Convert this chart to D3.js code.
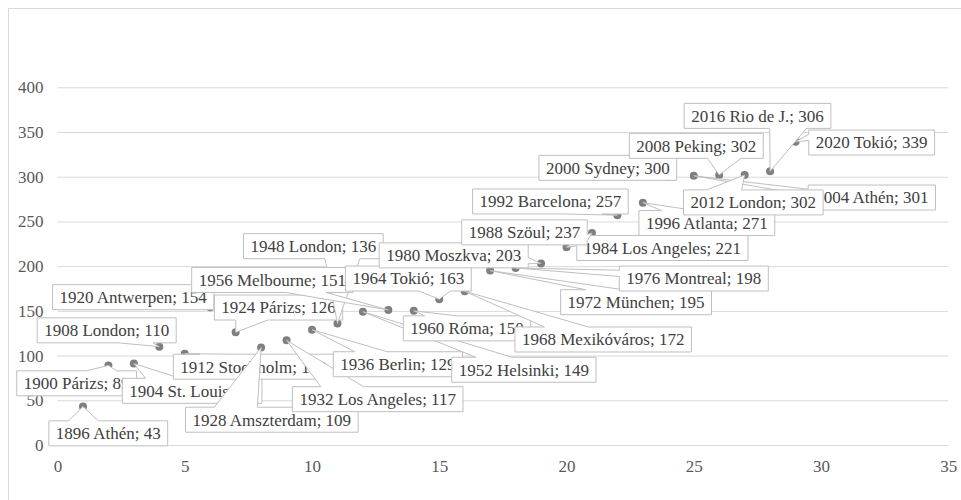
<!DOCTYPE html>
<html>
<head>
<meta charset="utf-8">
<script src="https://cdn.jsdelivr.net/npm/d3@7"></script>
<style>
  body { margin: 0; background: #ffffff; }
  svg { display: block; }
  svg text { font-family: "Liberation Serif", "DejaVu Serif", serif; font-size: 17px; }
</style>
</head>
<body>
<svg id="chart" width="961" height="500"></svg>
<script>
// ---- data ----
const games = ["1896 Athén", "1900 Párizs", "1904 St. Louis", "1908 London", "1912 Stockholm",
  "1920 Antwerpen", "1924 Párizs", "1928 Amszterdam", "1932 Los Angeles", "1936 Berlin",
  "1948 London", "1952 Helsinki", "1956 Melbourne", "1960 Róma", "1964 Tokió",
  "1968 Mexikóváros", "1972 München", "1976 Montreal", "1980 Moszkva", "1984 Los Angeles",
  "1988 Szöul", "1992 Barcelona", "1996 Atlanta", "2000 Sydney", "2004 Athén",
  "2008 Peking", "2012 London", "2016 Rio de J.", "2020 Tokió"];
const gameIndex = [1, 2, 3, 4, 5, 6, 7, 8, 9, 10, 11, 12, 13, 14, 15, 16, 17, 18, 19, 20,
  21, 22, 23, 24, 25, 26, 27, 28, 29];
const eventCounts = [43, 89, 91, 110, 102, 154, 126, 109, 117, 129, 136, 149, 151, 150, 163,
  172, 195, 198, 203, 221, 237, 257, 271, 300, 301, 302, 302, 306, 339];
const xTicks = [0, 5, 10, 15, 20, 25, 30, 35];
const yTicks = [0, 50, 100, 150, 200, 250, 300, 350, 400];

// label callout placement (pixel offset of box centre from its point) - layout only
const labelOffsets = [[25.3, 26.8], [-31.8, 17.9], [58.3, 27.2], [-52.6, -16.3], [68.8, 12.9],
  [-77, -10.1], [42.85, -24.8], [10.7, 72.2], [91.15, 58.8], [85.9, 34.6],
  [-24.1, -77.2], [161, 58], [-116, -30], [53.2, 17.5], [-30.9, -20.7],
  [138.5, 48.3], [145.9, 31.6], [178.2, 10.6], [-87.35, -8.1], [95.9, 0.6],
  [-67.5, -0.7], [-67, -13.7], [64, 20.4], [-60.5, -8.9], [178.1, 21.7],
  [-22.9, -29.1], [8.65, 27.5], [-12.6, -55.5], [76.1, 0.7]];

// ---- chart ----
const svg = d3.select("#chart");
const plotLeft = 57.5, plotRight = 948.25, plotBottom = 445, plotTop = 87.3;
const x = d3.scaleLinear().domain([0, 35]).range([plotLeft, plotRight]);
const y = d3.scaleLinear().domain([0, 400]).range([plotBottom, plotTop]);

// chart area border (only top/left visible in frame)
svg.append("rect").attr("x", 8.5).attr("y", 8.5).attr("width", 1200).attr("height", 1200)
  .attr("fill", "none").attr("stroke", "#d9d9d9").attr("stroke-width", 1);

// y axis with gridlines
const yAxis = svg.append("g").attr("transform", `translate(${plotLeft},0)`)
  .call(d3.axisLeft(y).tickValues(yTicks).tickSize(-(plotRight - plotLeft)).tickPadding(14));
yAxis.attr("font-family", null).attr("font-size", null);
yAxis.select(".domain").remove();
yAxis.selectAll("line").attr("stroke", "#d9d9d9").attr("stroke-width", 1);
yAxis.selectAll("text").attr("fill", "#595959");

// x axis labels
const xAxis = svg.append("g").attr("transform", `translate(0,${plotBottom})`)
  .call(d3.axisBottom(x).tickValues(xTicks).tickSize(0).tickPadding(15));
xAxis.attr("font-family", null).attr("font-size", null);
xAxis.select(".domain").remove();
xAxis.selectAll("text").attr("fill", "#595959");

const data = games.map((g, i) => ({ name: g, xi: gameIndex[i], v: eventCounts[i], off: labelOffsets[i] }));

// markers
svg.append("g").selectAll("circle").data(data).join("circle")
  .attr("cx", d => x(d.xi)).attr("cy", d => y(d.v)).attr("r", 4)
  .attr("fill", "#7f7f7f");

// callout path (rectangle with wedge pointing to the point)
function calloutPath(l, t, w, h, tx, ty) {
  const r = l + w, b = t + h, cx = l + w / 2, cy = t + h / 2;
  const inside = tx >= l && tx <= r && ty >= t && ty <= b;
  if (inside) return `M${l},${t}H${r}V${b}H${l}Z`;
  const dx = tx - cx, dy = ty - cy;
  if (Math.abs(dx) / w > Math.abs(dy) / h) {
    const y1 = dy < 0 ? t + h * 2 / 12 : t + h * 7 / 12;
    const y2 = dy < 0 ? t + h * 5 / 12 : t + h * 10 / 12;
    if (dx > 0) return `M${l},${t}H${r}V${y1}L${tx},${ty}L${r},${y2}V${b}H${l}Z`;
    return `M${l},${t}H${r}V${b}H${l}V${y2}L${tx},${ty}L${l},${y1}Z`;
  } else {
    const x1 = dx < 0 ? l + w * 2 / 12 : l + w * 7 / 12;
    const x2 = dx < 0 ? l + w * 5 / 12 : l + w * 10 / 12;
    if (dy < 0) return `M${l},${t}H${x1}L${tx},${ty}L${x2},${t}H${r}V${b}H${l}Z`;
    return `M${l},${t}H${r}V${b}H${x2}L${tx},${ty}L${x1},${b}H${l}Z`;
  }
}

const labels = svg.append("g");
data.forEach(d => {
  const g = labels.append("g");
  const px = x(d.xi), py = y(d.v);
  const cx = px + d.off[0], cy = py + d.off[1];
  const path = g.append("path");
  const txt = g.append("text")
    .attr("x", cx).attr("y", cy).attr("dy", "0.35em")
    .attr("text-anchor", "middle")
    .attr("fill", "#404040")
    .text(`${d.name}; ${d.v}`);
  const tw = txt.node().getComputedTextLength();
  const w = tw + 14, h = 25;
  path.attr("d", calloutPath(cx - w / 2, cy - h / 2, w, h, px, py))
    .attr("fill", "#ffffff").attr("stroke", "#bfbfbf").attr("stroke-width", 1);
});
</script>
</body>
</html>
